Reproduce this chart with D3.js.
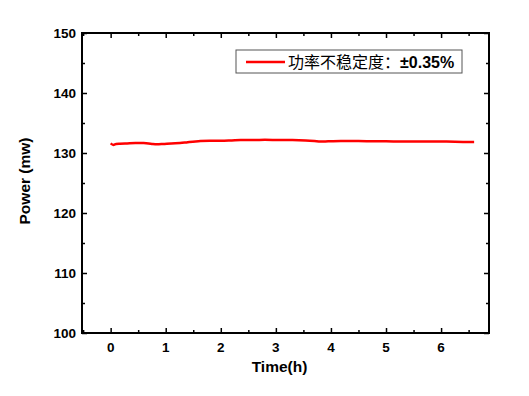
<!DOCTYPE html>
<html><head><meta charset="utf-8">
<script src="https://cdn.jsdelivr.net/npm/d3@7"></script>
<style>body{margin:0;background:#fff}svg{display:block}</style>
</head><body>
<script>
const timeH = [0,0.05,0.1,0.17,0.3,0.45,0.6,0.75,0.84,0.95,1.1,1.26,1.4,1.63,1.8,2.0,2.2,2.36,2.6,2.8,3.08,3.3,3.54,3.7,3.81,3.95,4.18,4.5,4.8,5.0,5.27,5.5,5.8,6.1,6.4,6.6];
const powerMw = [131.6,131.35,131.5,131.55,131.6,131.65,131.65,131.5,131.45,131.5,131.6,131.65,131.8,132.0,132.05,132.05,132.1,132.15,132.15,132.2,132.15,132.15,132.1,132.0,131.9,131.95,132.0,132.0,131.95,131.95,131.9,131.9,131.9,131.9,131.85,131.85];
const xTicks = [0,1,2,3,4,5,6];
const yTicks = [100,110,120,130,140,150];
const legendLabel = "功率不稳定度：";
const legendValue = "±0.35%";

const W=529,H=396;
const m={l:82,r:489,t:33,b:333};
const svg=d3.select("body").append("svg").attr("width",W).attr("height",H);
const x=d3.scaleLinear().domain([-0.52,6.87]).range([m.l,m.r]);
const y=d3.scaleLinear().domain([100,150]).range([m.b,m.t]);
const font="'Liberation Sans', Arial, sans-serif";

// data line
svg.append("path").datum(timeH.map((t,i)=>[t,powerMw[i]]))
  .attr("fill","none").attr("stroke","#ff0000").attr("stroke-width",2.5)
  .attr("stroke-linejoin","round")
  .attr("d",d3.line().x(d=>x(d[0])).y(d=>y(d[1])).curve(d3.curveMonotoneX));

const minorX=d3.range(-0.5,6.9,0.5).filter(v=>!xTicks.includes(v));
const minorY=d3.range(105,150,10);
function ax(gen,tr,ticks,len){
  const g=svg.append("g").attr("transform",tr).call(gen.tickValues(ticks).tickSize(len).tickFormat(""));
  g.select(".domain").remove();
  g.selectAll("line").attr("stroke","#000").attr("stroke-width",1.5);
  return g;
}
ax(d3.axisTop(x),`translate(0,${m.b})`,xTicks,5);
ax(d3.axisTop(x),`translate(0,${m.b})`,minorX,3);
ax(d3.axisBottom(x),`translate(0,${m.t})`,xTicks,5);
ax(d3.axisBottom(x),`translate(0,${m.t})`,minorX,3);
ax(d3.axisRight(y),`translate(${m.l},0)`,yTicks,5);
ax(d3.axisRight(y),`translate(${m.l},0)`,minorY,3);
ax(d3.axisLeft(y),`translate(${m.r},0)`,yTicks,5);
ax(d3.axisLeft(y),`translate(${m.r},0)`,minorY,3);

svg.append("rect").attr("x",m.l).attr("y",m.t).attr("width",m.r-m.l).attr("height",m.b-m.t)
  .attr("fill","none").attr("stroke","#000").attr("stroke-width",2);

svg.append("g").selectAll("text").data(xTicks).join("text")
  .attr("x",d=>x(d)).attr("y",m.b+19).attr("text-anchor","middle")
  .attr("font-family",font).attr("font-weight","bold").attr("font-size",13.5).text(d=>d);
svg.append("g").selectAll("text").data(yTicks).join("text")
  .attr("x",m.l-6).attr("y",d=>y(d)+5).attr("text-anchor","end")
  .attr("font-family",font).attr("font-weight","bold").attr("font-size",13.5).text(d=>d);

svg.append("text").attr("x",(m.l+m.r)/2-6).attr("y",372).attr("text-anchor","middle")
  .attr("font-family",font).attr("font-weight","bold").attr("font-size",15.5).text("Time(h)");
svg.append("text").attr("transform",`translate(30,${(m.t+m.b)/2-2}) rotate(-90)`).attr("text-anchor","middle")
  .attr("font-family",font).attr("font-weight","bold").attr("font-size",15.5).text("Power (mw)");

svg.append("rect").attr("x",236).attr("y",50).attr("width",226).attr("height",23)
  .attr("fill","#fff").attr("stroke","#555").attr("stroke-width",1);
svg.append("line").attr("x1",246).attr("x2",285).attr("y1",62).attr("y2",62)
  .attr("stroke","#ff0000").attr("stroke-width",2.5);
const lt=svg.append("text").attr("x",288).attr("y",68).attr("font-size",16);
lt.append("tspan").attr("font-family","'Noto Sans CJK SC', sans-serif").text(legendLabel);
lt.append("tspan").attr("font-family",font).attr("font-weight","bold").text(legendValue);
</script>
</body></html>
